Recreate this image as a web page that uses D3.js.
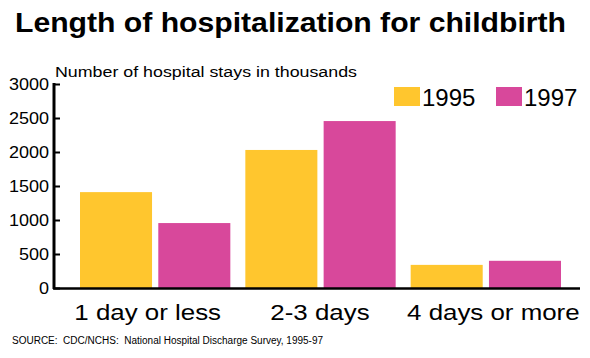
<!DOCTYPE html>
<html><head><meta charset="utf-8">
<script src="https://cdn.jsdelivr.net/npm/d3@7"></script>
<style>body{margin:0;background:#fff}svg{display:block;font-family:Arial,"Liberation Sans",sans-serif}</style>
</head><body>
<svg id="c" width="590" height="358"></svg>
<script>
const categories = ["1 day or less", "2-3 days", "4 days or more"];
const years = ["1995", "1997"];
const values1995 = [1410, 2030, 340];
const values1997 = [955, 2455, 400];
const yTicks = [0, 500, 1000, 1500, 2000, 2500, 3000];
const colors = ["#FFC62E", "#D8489B"];

const svg = d3.select("#c");
const series = [values1995, values1997];
const y = d3.scaleLinear().domain([0, 3000]).range([288, 84]);
const x = d3.scaleBand().domain(categories).range([72, 568]).padding(0);
const xs = d3.scaleBand().domain(years).range([8, x.bandwidth() - 7]).paddingInner(0.08);

function fitWidth(sel, w) {
  sel.attr("textLength", w).attr("lengthAdjust", "spacingAndGlyphs");
}
function stretch(sel, f) {
  sel.each(function () {
    const w = this.getComputedTextLength();
    d3.select(this).attr("textLength", w * f).attr("lengthAdjust", "spacingAndGlyphs");
  });
}

svg.append("text").attr("x", 15).attr("y", 32).attr("font-size", 28).attr("font-weight", "bold")
  .text("Length of hospitalization for childbirth").call(fitWidth, 551);
svg.append("text").attr("x", 55).attr("y", 77).attr("font-size", 15.5)
  .text("Number of hospital stays in thousands").call(fitWidth, 302);

const g = svg.append("g");
categories.forEach((c, i) => {
  years.forEach((yr, j) => {
    g.append("rect").attr("x", x(c) + xs(yr)).attr("width", xs.bandwidth())
      .attr("y", y(series[j][i])).attr("height", y(0) - y(series[j][i]))
      .attr("fill", colors[j]);
  });
});

const ax = d3.axisLeft(y).tickValues(yTicks).tickSize(5).tickPadding(3).tickFormat(d3.format("d"));
const ag = svg.append("g").attr("transform", "translate(54,0)").call(ax);
ag.select(".domain").remove();
ag.selectAll("line").attr("stroke", "#000").attr("stroke-width", 2).attr("x1", 0).attr("x2", 6);
ag.selectAll("text").attr("font-size", 17).attr("font-family", "Arial, Liberation Sans, sans-serif")
  .attr("fill", "#000").attr("x", -5).attr("dy", "0.35em").call(stretch, 1.06);
svg.append("line").attr("x1", 54).attr("x2", 54).attr("y1", 83).attr("y2", 289).attr("stroke", "#000").attr("stroke-width", 3);
svg.append("line").attr("x1", 53).attr("x2", 580).attr("y1", 288.5).attr("y2", 288.5).attr("stroke", "#000").attr("stroke-width", 2.5);

const labelShift = [-7, 0, 8];
categories.forEach((c, i) => {
  svg.append("text").attr("x", x(c) + x.bandwidth() / 2 + labelShift[i]).attr("y", 320).attr("text-anchor", "middle")
    .attr("font-size", 22.5).text(c).call(stretch, 1.15);
});

const legX = [394, 496];
years.forEach((yr, j) => {
  svg.append("rect").attr("x", legX[j]).attr("y", 87).attr("width", 26).attr("height", 19).attr("fill", colors[j]);
  svg.append("text").attr("x", legX[j] + 28).attr("y", 106).attr("font-size", 24).text(yr);
});

svg.append("text").attr("x", 12).attr("y", 344).attr("font-size", 10).style("white-space", "pre")
  .text("SOURCE:  CDC/NCHS:  National Hospital Discharge Survey, 1995-97");
</script>
</body></html>
